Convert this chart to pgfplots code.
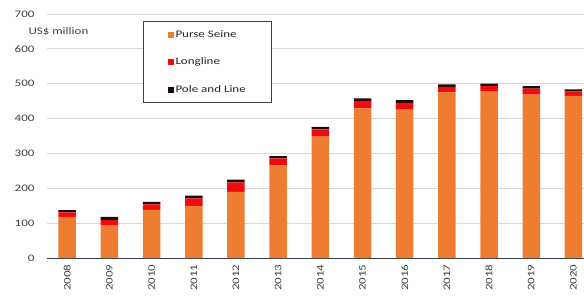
\documentclass[border=0pt]{standalone}
\usepackage{pgfplots}
\pgfplotsset{compat=1.18}
\usepackage{pgfplotstable}
\usepackage{fontspec}
\setmainfont{Carlito}[FakeStretch=1.3]

\definecolor{ps}{RGB}{237,125,49}
\definecolor{ll}{RGB}{240,12,12}
\definecolor{pl}{RGB}{30,10,10}
\definecolor{txt}{RGB}{64,64,64}
\definecolor{gridc}{RGB}{217,217,217}
\definecolor{axc}{RGB}{55,62,80}

\pgfplotstableread{
x PS LL PL
0 118 13 6
1 94 15 9
2 138 16 7
3 149 22 8
4 190 27 8
5 266 20 6
6 348 21 7
7 429 22 7
8 426 19 8
9 475 16 7
10 479 15 6
11 469 17 7
12 465 13 6
}\datatable

\begin{document}
\begin{tikzpicture}
\begin{axis}[
  at={(47pt,42pt)}, anchor=south west,
  scale only axis, width=537pt, height=244pt,
  ybar stacked, bar width=17.5pt,
  xmin=-0.48, xmax=12.25, ymin=0, ymax=700,
  clip=false,
  ytick={0,100,...,700},
  xtick={0,...,12},
  xticklabels={2008,2009,2010,2011,2012,2013,2014,2015,2016,2017,2018,2019,2020},
  axis x line=bottom, axis y line=left,
  y axis line style={draw=none},
  x axis line style={-, draw=axc, line width=1pt},
  major tick length=0pt,
  ymajorgrids, grid style={gridc, line width=0.9pt},
  /pgf/number format/assume math mode=true,
  ticklabel style={font=\fontsize{10}{12}\selectfont, text=txt},
  yticklabel style={xshift=-9pt},
  xticklabel style={rotate=90, anchor=east},
  xticklabel shift=3pt,
  legend cell align=left,
  legend style={at={(rel axis cs:0.179,0.971)}, anchor=north west,
    draw=black!75, line width=0.8pt, fill=white,
    inner xsep=24pt, inner ysep=7pt,
    row sep=15pt, font=\fontsize{10}{12}\selectfont, text=black!85},
  legend image code/.code={\fill[#1,draw=none] (0pt,-3pt) rectangle (6pt,3pt);},
]
\addplot[fill=ps, draw=none] table[x=x,y=PS]{\datatable};
\addplot[fill=ll, draw=none] table[x=x,y=LL]{\datatable};
\addplot[fill=pl, draw=none] table[x=x,y=PL]{\datatable};
\legend{Purse Seine, Longline, Pole and Line}
\node[anchor=west, font=\fontsize{10}{12}\selectfont, text=txt] at (rel axis cs:-0.041,0.926) {US\$ million};
\end{axis}
\pgfresetboundingbox
\path[use as bounding box] (0,0) rectangle (584pt,300pt);
\end{tikzpicture}
\end{document}
